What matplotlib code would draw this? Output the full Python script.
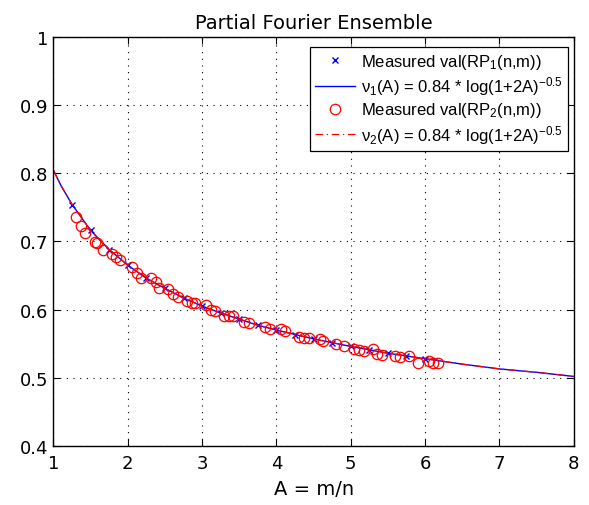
import matplotlib
matplotlib.use("Agg")
import matplotlib.pyplot as plt

plt.rcParams['font.family'] = ['DejaVu Sans']
plt.rcParams['mathtext.fontset'] = 'custom'
plt.rcParams['mathtext.rm'] = 'Liberation Sans'
plt.rcParams['mathtext.it'] = 'Liberation Sans:italic'
plt.rcParams['mathtext.default'] = 'regular'

# fitted curve
fit_A = [1.0, 1.1, 1.25, 1.5, 1.75, 2.0, 2.25, 2.5, 2.75, 3.0, 3.25, 3.5, 3.75,
         4.0, 4.5, 5.0, 5.5, 6.0, 6.5, 7.0, 7.5, 8.0]
fit_v = [0.804, 0.782, 0.754, 0.716, 0.688, 0.665, 0.646, 0.631, 0.617, 0.605,
         0.595, 0.586, 0.577, 0.570, 0.557, 0.546, 0.536, 0.528, 0.520, 0.513,
         0.508, 0.502]

# RP1 measurements (blue x)
rp1_A = [1.25, 1.5, 1.75, 2.0, 2.25, 2.5, 2.75, 3.0, 3.25, 3.5, 3.75, 4.0,
         4.25, 4.5, 4.75, 5.0, 5.25, 5.5, 5.75, 6.0]
rp1_v = [0.753, 0.716, 0.688, 0.665, 0.646, 0.631, 0.617, 0.605, 0.595, 0.586,
         0.577, 0.570, 0.563, 0.557, 0.551, 0.546, 0.541, 0.536, 0.532, 0.528]

# RP2 measurements (red o)
rp2_A = [1.30, 1.37, 1.42, 1.56, 1.59, 1.67, 1.79, 1.84, 1.89, 2.06, 2.13, 2.18,
         2.31, 2.38, 2.42, 2.54, 2.61, 2.67, 2.80, 2.87, 2.91, 3.05, 3.12, 3.17,
         3.29, 3.36, 3.42, 3.56, 3.63, 3.85, 3.92, 4.06, 4.12, 4.30, 4.37, 4.44,
         4.59, 4.62, 4.80, 4.91, 5.05, 5.11, 5.18, 5.30, 5.35, 5.42, 5.59, 5.66,
         5.79, 5.91, 6.05, 6.11, 6.17]
rp2_v = [0.735, 0.723, 0.712, 0.699, 0.697, 0.688, 0.681, 0.677, 0.672, 0.663,
         0.654, 0.647, 0.646, 0.641, 0.631, 0.630, 0.623, 0.618, 0.613, 0.610,
         0.610, 0.606, 0.600, 0.598, 0.591, 0.591, 0.590, 0.582, 0.580, 0.575,
         0.571, 0.571, 0.569, 0.560, 0.559, 0.558, 0.557, 0.554, 0.549, 0.547,
         0.542, 0.540, 0.539, 0.542, 0.535, 0.533, 0.532, 0.530, 0.532, 0.521,
         0.525, 0.522, 0.522]

fig = plt.figure(figsize=(5.89, 5.06), dpi=100)
ax = fig.add_axes([0.0908, 0.1166, 0.8832, 0.8089])

ax.plot(rp1_A, rp1_v, 'x', color='blue', markersize=4.5, markeredgewidth=1,
        label='Measured val(RP$_1$(n,m))')
ax.plot(fit_A, fit_v, '-', color='blue', lw=1,
        label=r'$\nu_1$(A) = 0.84 * log(1+2A)$^{-0.5}$')
ax.plot(rp2_A, rp2_v, 'o', mfc='none', mec='red', markersize=7.5,
        markeredgewidth=0.9, label='Measured val(RP$_2$(n,m))')
ax.plot(fit_A, fit_v, color='red', lw=0.9, linestyle=(0, (6, 3, 1, 3)),
        label=r'$\nu_2$(A) = 0.84 * log(1+2A)$^{-0.5}$')

ax.set_xlim(1, 8)
ax.set_ylim(0.4, 1)
ax.set_xticks(range(1, 9))
ax.set_yticks([0.4, 0.5, 0.6, 0.7, 0.8, 0.9, 1.0])
ax.set_yticklabels(['0.4', '0.5', '0.6', '0.7', '0.8', '0.9', '1'])
ax.tick_params(direction='in', top=True, right=True, labelsize=13, length=5)
ax.tick_params(axis='x', pad=6)
ax.grid(True, linestyle=(0, (1, 5)), color='black', lw=0.8)
for s in ax.spines.values():
    s.set_linewidth(1)

ax.set_title('Partial Fourier Ensemble', fontsize=14, pad=6)
ax.set_xlabel('A = m/n', fontsize=14, labelpad=5)

leg = ax.legend(loc='upper right', bbox_to_anchor=(0.9885, 0.975),
                prop={'family': 'Liberation Sans', 'size': 12},
                fancybox=False, edgecolor='black', framealpha=1,
                handlelength=2.4, borderpad=0.3, labelspacing=0.2,
                handletextpad=0.35, borderaxespad=0)
leg.get_frame().set_linewidth(0.9)

fig.savefig('out.png', dpi=100)
